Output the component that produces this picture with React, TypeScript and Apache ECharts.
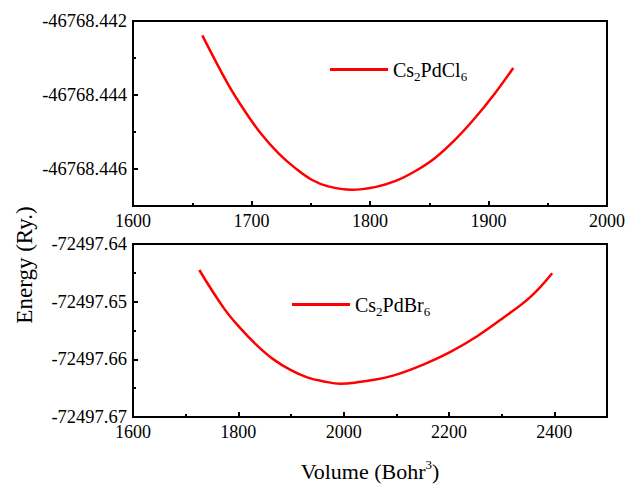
import React, { useEffect, useRef } from "react";
import * as echarts from "echarts";

// ---- Data ----
const volCl = [
  1658.5, 1680.4, 1694.5, 1708.6, 1722.6, 1736.7, 1750.8, 1764.8, 1784.6, 1804.2, 1821.1,
  1838, 1854.9, 1871.7, 1888.6, 1905.5, 1920.9,
];
const eCl = [
  -46768.44239, -46768.44372, -46768.44444, -46768.44507, -46768.44557, -46768.44597,
  -46768.44629, -46768.44647, -46768.44656, -46768.44649, -46768.44633, -46768.44606,
  -46768.4457, -46768.44521, -46768.44462, -46768.44395, -46768.44327,
];
const volBr = [
  1725.9, 1772.4, 1804.1, 1835.8, 1867.3, 1899, 1930.7, 1962.3, 1994, 2025.6, 2063.6,
  2101.6, 2152.1, 2202.8, 2253.5, 2304, 2354.7, 2395.9,
];
const eBr = [
  -72497.64451, -72497.65112, -72497.65464, -72497.65761, -72497.66005, -72497.66183,
  -72497.66313, -72497.66383, -72497.66422, -72497.66399, -72497.66346, -72497.6626,
  -72497.66086, -72497.6587, -72497.65599, -72497.65274, -72497.64917, -72497.64506,
];

const xMajorTop = [1600, 1700, 1800, 1900, 2000];
const xMinorTop = [1650, 1750, 1850, 1950];
const yMajorTop = [-46768.442, -46768.444, -46768.446];
const yMinorTop = [-46768.443, -46768.445];
const xMajorBottom = [1600, 1800, 2000, 2200, 2400];
const xMinorBottom = [1700, 1900, 2100, 2300];
const yMajorBottom = [-72497.64, -72497.65, -72497.66, -72497.67];
const yMinorBottom = [-72497.645, -72497.655, -72497.665];

const nameCl = "Cs2PdCl6";
const nameBr = "Cs2PdBr6";

const FONT = '"Liberation Serif", "Times New Roman", serif';
const BLACK = "#000";
const RED = "#ff0000";

function majorX(grid: number, min: number, max: number, ticks: number[], extra: any = {}) {
  return {
    type: "value",
    gridIndex: grid,
    position: "bottom",
    min,
    max,
    axisLine: { show: true, lineStyle: { color: BLACK, width: 2 } },
    axisTick: { show: true, inside: true, length: 5, customValues: ticks, lineStyle: { color: BLACK, width: 2 } },
    axisLabel: {
      show: true,
      customValues: ticks,
      fontFamily: FONT,
      fontSize: 18,
      color: BLACK,
      margin: 6,
      formatter: (v: number) => String(v),
    },
    splitLine: { show: false },
    ...extra,
  };
}
function minorX(grid: number, min: number, max: number, ticks: number[]) {
  return {
    type: "value",
    gridIndex: grid,
    position: "bottom",
    min,
    max,
    axisLine: { show: false },
    axisTick: { show: true, inside: true, length: 3, customValues: ticks, lineStyle: { color: BLACK, width: 2 } },
    axisLabel: { show: false },
    splitLine: { show: false },
  };
}
function majorY(grid: number, min: number, max: number, ticks: number[], digits: number) {
  return {
    type: "value",
    gridIndex: grid,
    position: "left",
    min,
    max,
    axisLine: { show: true, lineStyle: { color: BLACK, width: 2 } },
    axisTick: { show: true, inside: true, length: 5, customValues: ticks, lineStyle: { color: BLACK, width: 2 } },
    axisLabel: {
      show: true,
      customValues: ticks,
      fontFamily: FONT,
      fontSize: 18.5,
      color: BLACK,
      margin: 6,
      formatter: (v: number) => v.toFixed(digits),
    },
    splitLine: { show: false },
  };
}
function minorY(grid: number, min: number, max: number, ticks: number[]) {
  return {
    type: "value",
    gridIndex: grid,
    position: "left",
    min,
    max,
    axisLine: { show: false },
    axisTick: { show: true, inside: true, length: 3, customValues: ticks, lineStyle: { color: BLACK, width: 2 } },
    axisLabel: { show: false },
    splitLine: { show: false },
  };
}

const legendFormatter = (name: string) => {
  const m = name.match(/^Cs(\d)Pd([A-Za-z]+)(\d)$/);
  if (!m) return name;
  return `{n|Cs}{s|${m[1]}}{n|Pd${m[2]}}{s|${m[3]}}`;
};
const legendText = {
  fontFamily: FONT,
  fontSize: 20,
  color: BLACK,
  rich: {
    n: { fontFamily: FONT, fontSize: 20, color: BLACK, lineHeight: 24 },
    s: { fontFamily: FONT, fontSize: 13, color: BLACK, padding: [14, 0, 0, 0], lineHeight: 24 },
  },
};

export default function App() {
  const ref = useRef<HTMLDivElement>(null);
  useEffect(() => {
    if (!ref.current) return;
    const chart = echarts.init(ref.current, undefined, { renderer: "svg" });
    const option: any = {
      animation: false,
      backgroundColor: "#fff",
      grid: [
        { left: 133, right: 22, top: 21, height: 185, show: true, borderColor: BLACK, borderWidth: 2, containLabel: false },
        { left: 133, right: 22, top: 244, height: 184, show: true, borderColor: BLACK, borderWidth: 2, containLabel: false },
      ],
      xAxis: [
        majorX(0, 1600, 2000, xMajorTop),
        minorX(0, 1600, 2000, xMinorTop),
        majorX(1, 1600, 2500, xMajorBottom, {
          name: "{a|Volume (Bohr}{sup|3}{a|)}",
          nameLocation: "middle",
          nameGap: 41,
          nameTextStyle: {
            fontFamily: FONT,
            fontSize: 22,
            color: BLACK,
            rich: {
              a: { fontFamily: FONT, fontSize: 22, color: BLACK, lineHeight: 26 },
              sup: { fontFamily: FONT, fontSize: 13, color: BLACK, padding: [0, 0, 13, 0], lineHeight: 26 },
            },
          },
        }),
        minorX(1, 1600, 2500, xMinorBottom),
      ],
      yAxis: [
        majorY(0, -46768.447, -46768.442, yMajorTop, 3),
        minorY(0, -46768.447, -46768.442, yMinorTop),
        majorY(1, -72497.67, -72497.64, yMajorBottom, 2),
        minorY(1, -72497.67, -72497.64, yMinorBottom),
      ],
      legend: [
        {
          data: [nameCl],
          left: 325,
          top: 51,
          icon: "rect",
          itemWidth: 58,
          itemHeight: 3,
          formatter: legendFormatter,
          textStyle: legendText,
        },
        {
          data: [nameBr],
          left: 287,
          top: 286,
          icon: "rect",
          itemWidth: 58,
          itemHeight: 3,
          formatter: legendFormatter,
          textStyle: legendText,
        },
      ],
      graphic: [
        {
          type: "text",
          x: 24,
          y: 265,
          rotation: Math.PI / 2,
          style: {
            text: "Energy (Ry.)",
            fontFamily: FONT,
            fontSize: 23,
            fill: BLACK,
            align: "center",
            verticalAlign: "middle",
          },
        },
      ],
      series: [
        {
          name: nameCl,
          type: "line",
          xAxisIndex: 0,
          yAxisIndex: 0,
          data: volCl.map((v, i) => [v, eCl[i]]),
          smooth: 0.4,
          symbol: "none",
          lineStyle: { color: RED, width: 2.5 },
          itemStyle: { color: RED },
        },
        {
          name: nameBr,
          type: "line",
          xAxisIndex: 2,
          yAxisIndex: 2,
          data: volBr.map((v, i) => [v, eBr[i]]),
          smooth: 0.4,
          symbol: "none",
          lineStyle: { color: RED, width: 2.5 },
          itemStyle: { color: RED },
        },
      ],
    };
    chart.setOption(option);
    return () => chart.dispose();
  }, []);
  return (
    <div
      ref={ref}
      style={{ position: "fixed", left: 0, top: 0, width: 629, height: 485, background: "#fff" }}
    />
  );
}
